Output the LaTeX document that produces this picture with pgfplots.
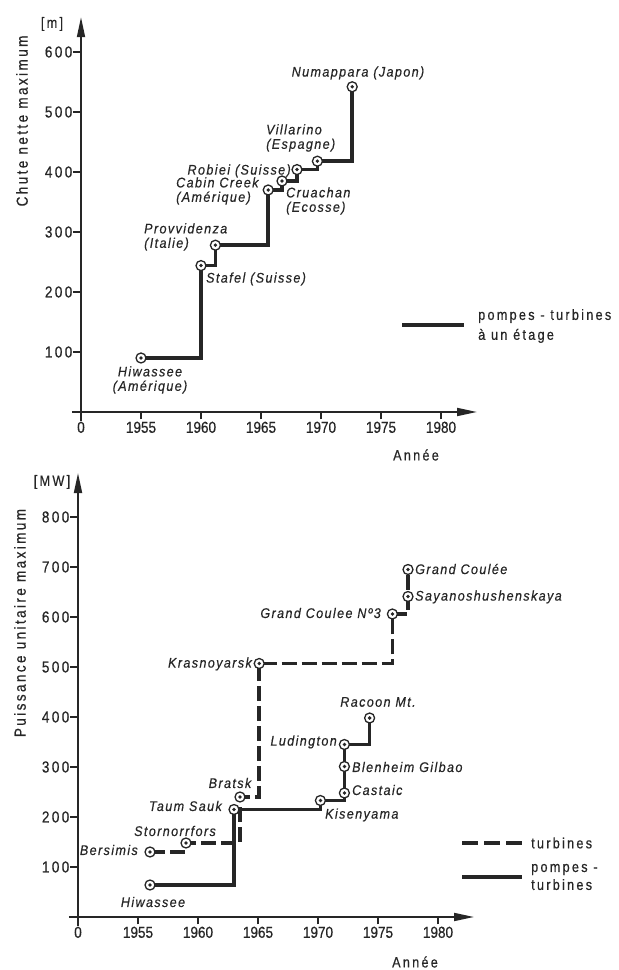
\documentclass[border=0pt]{standalone}
\usepackage{fontspec}
\setmainfont{Liberation Sans}
\newfontfamily\fX[FakeStretch=0.85, FakeBold=0.5]{Liberation Sans}
\newfontfamily\fY[FakeStretch=0.85, FakeBold=0.5, LetterSpace=15]{Liberation Sans}
\newfontfamily\fL[FakeStretch=0.9, FakeBold=0.4, LetterSpace=10]{Liberation Sans}
\newfontfamily\fT[FakeStretch=0.85, FakeBold=0.5, LetterSpace=15]{Liberation Sans}
\usepackage{pgfplots}
\pgfplotsset{compat=1.18}
\usepackage{pgfplotstable}
\usetikzlibrary{arrows.meta}
\definecolor{ink}{HTML}{262626}

\pgfdeclareplotmark{odot}{%
  \pgfpathcircle{\pgfpointorigin}{\pgfplotmarksize}%
  \pgfusepathqfillstroke
  \begin{pgfscope}%
    \pgfsetfillcolor{ink}%
    \pgfpathcircle{\pgfpointorigin}{0.38\pgfplotmarksize}%
    \pgfusepathqfill
  \end{pgfscope}%
}

% Chute nette maximum [m] -- pompes-turbines a un etage
\pgfplotstableread{
year h
1955 90
1960 244
1961.2 278
1965.6 370
1966.75 385
1968 404
1969.7 418
1972.6 542
}\tabhead

% Puissance unitaire maximum [MW] -- pompes-turbines
\pgfplotstableread{
year p
1956 64
1963 215
1970.2 233
1972.2 248
1972.2 301
1972.2 345
1974.3 398
}\tabpt

% Puissance unitaire maximum [MW] -- turbines
\pgfplotstableread{
year p
1956 130
1959 148
1963.5 240
1965.1 507
1976.2 606
1977.5 641
1977.5 695
}\tabtu

\pgfplotsset{
  chart/.style={
    axis x line=bottom, axis y line=left,
    x=12bp,
    xmin=0, xmax=33, ymin=0,
    axis line style={line width=1.8bp, draw=ink, shorten <=-9bp},
    every outer x axis line/.append style={-{Triangle[length=20bp,width=8bp]}},
    every outer y axis line/.append style={-{Triangle[length=20bp,width=8bp]}},
    tick align=outside, major tick length=7.5bp,
    tick style={line width=1.4bp, draw=ink},
    xtick={0,5,...,30},
    xticklabels={0,1955,1960,1965,1970,1975,1980},
    xticklabel style={font=\fX\fontsize{16}{16}\selectfont, text=ink, inner sep=2bp},
    yticklabel style={font=\fY\fontsize{16}{16}\selectfont, text=ink, inner xsep=1bp},
    clip=false,
    anchor=south west,
  },
  stepline/.style={const plot, line width=3.5bp, draw=ink, line cap=butt, line join=miter,
    mark=odot, mark size=5bp, mark options={solid, fill=white, draw=ink, line width=1.3bp}},
}
\tikzset{
  lab/.style={font=\fL\itshape\fontsize{14}{14.5}\selectfont, text=ink, inner sep=0pt, align=left},
  txt/.style={font=\fT\fontsize{15}{20}\selectfont, text=ink, inner sep=0pt, align=left},
  ylab/.style={font=\fT\fontsize{16}{16}\selectfont, text=ink, inner sep=0pt, rotate=90, anchor=center},
}

\begin{document}
\begin{tikzpicture}
\path[use as bounding box] (0,0) rectangle (619bp,970bp);

% ---------- top chart ----------
\begin{axis}[chart, at={(81bp,558bp)}, y=0.6bp, ymax=658,
  ytick={100,200,...,600}, yticklabels={100,200,300,400,500,600}]
  \addplot[stepline] table[x expr=\thisrow{year}-1950, y=h] {\tabhead};
\end{axis}

% ---------- bottom chart ----------
\begin{axis}[chart, at={(78bp,53bp)}, y=0.5bp, ymax=888,
  ytick={100,200,...,800}, yticklabels={100,200,300,400,500,600,700,800}]
  \addplot[stepline, dash pattern=on 15bp off 5bp] table[x expr=\thisrow{year}-1950, y=p] {\tabtu};
  \addplot[stepline] table[x expr=\thisrow{year}-1950, y=p] {\tabpt};
\end{axis}

% ---------- top texts ----------
\node[txt, anchor=center] at (52bp,946bp) {[m]};
\node[ylab] at (22bp,849bp) {Chute nette maximum};
\node[txt, anchor=center] at (416bp,515bp) {Année};
\node[lab, anchor=center] at (358bp,897bp) {Numappara (Japon)};
\node[lab, anchor=west] at (266bp,832bp) {Villarino\\(Espagne)};
\node[lab, anchor=east] at (291bp,799bp) {Robiei (Suisse)};
\node[lab, anchor=west] at (176bp,779bp) {Cabin Creek\\(Amérique)};
\node[lab, anchor=west] at (286bp,769bp) {Cruachan\\(Ecosse)};
\node[lab, anchor=west] at (144bp,733bp) {Provvidenza\\(Italie)};
\node[lab, anchor=west] at (206bp,691bp) {Stafel (Suisse)};
\node[lab, anchor=center, align=center] at (150bp,590bp) {Hiwassee\\(Amérique)};
\draw[line width=3.5bp, ink] (402bp,645bp) -- (464bp,645bp);
\node[txt, anchor=west] at (478bp,644bp) {pompes - turbines\\à un étage};

% ---------- bottom texts ----------
\node[txt, anchor=center] at (52bp,488bp) {[MW]};
\node[ylab] at (20bp,347bp) {Puissance unitaire maximum};
\node[txt, anchor=center] at (415bp,8bp) {Année};
\node[lab, anchor=west] at (415bp,401bp) {Grand Coulée};
\node[lab, anchor=west] at (415bp,373bp) {Sayanoshushenskaya};
\node[lab, anchor=east] at (381bp,357bp) {Grand Coulee Nº3};
\node[lab, anchor=east] at (252bp,306bp) {Krasnoyarsk};
\node[lab, anchor=center] at (378bp,268bp) {Racoon Mt.};
\node[lab, anchor=east] at (337bp,228bp) {Ludington};
\node[lab, anchor=west] at (352bp,203bp) {Blenheim Gilbao};
\node[lab, anchor=west] at (352bp,180bp) {Castaic};
\node[lab, anchor=west] at (325bp,155bp) {Kisenyama};
\node[lab, anchor=center] at (230bp,187bp) {Bratsk};
\node[lab, anchor=east] at (222bp,164bp) {Taum Sauk};
\node[lab, anchor=center] at (175bp,139bp) {Stornorrfors};
\node[lab, anchor=east] at (138bp,120bp) {Bersimis};
\node[lab, anchor=center] at (153bp,68bp) {Hiwassee};
\draw[line width=3.5bp, ink, dash pattern=on 16bp off 6bp] (462bp,127bp) -- (522bp,127bp);
\node[txt, anchor=west] at (531bp,127bp) {turbines};
\draw[line width=3.5bp, ink] (462bp,93bp) -- (522bp,93bp);
\node[txt, anchor=west, font=\fT\fontsize{15}{18}\selectfont] at (531bp,93bp) {pompes -\\turbines};
\end{tikzpicture}
\end{document}
